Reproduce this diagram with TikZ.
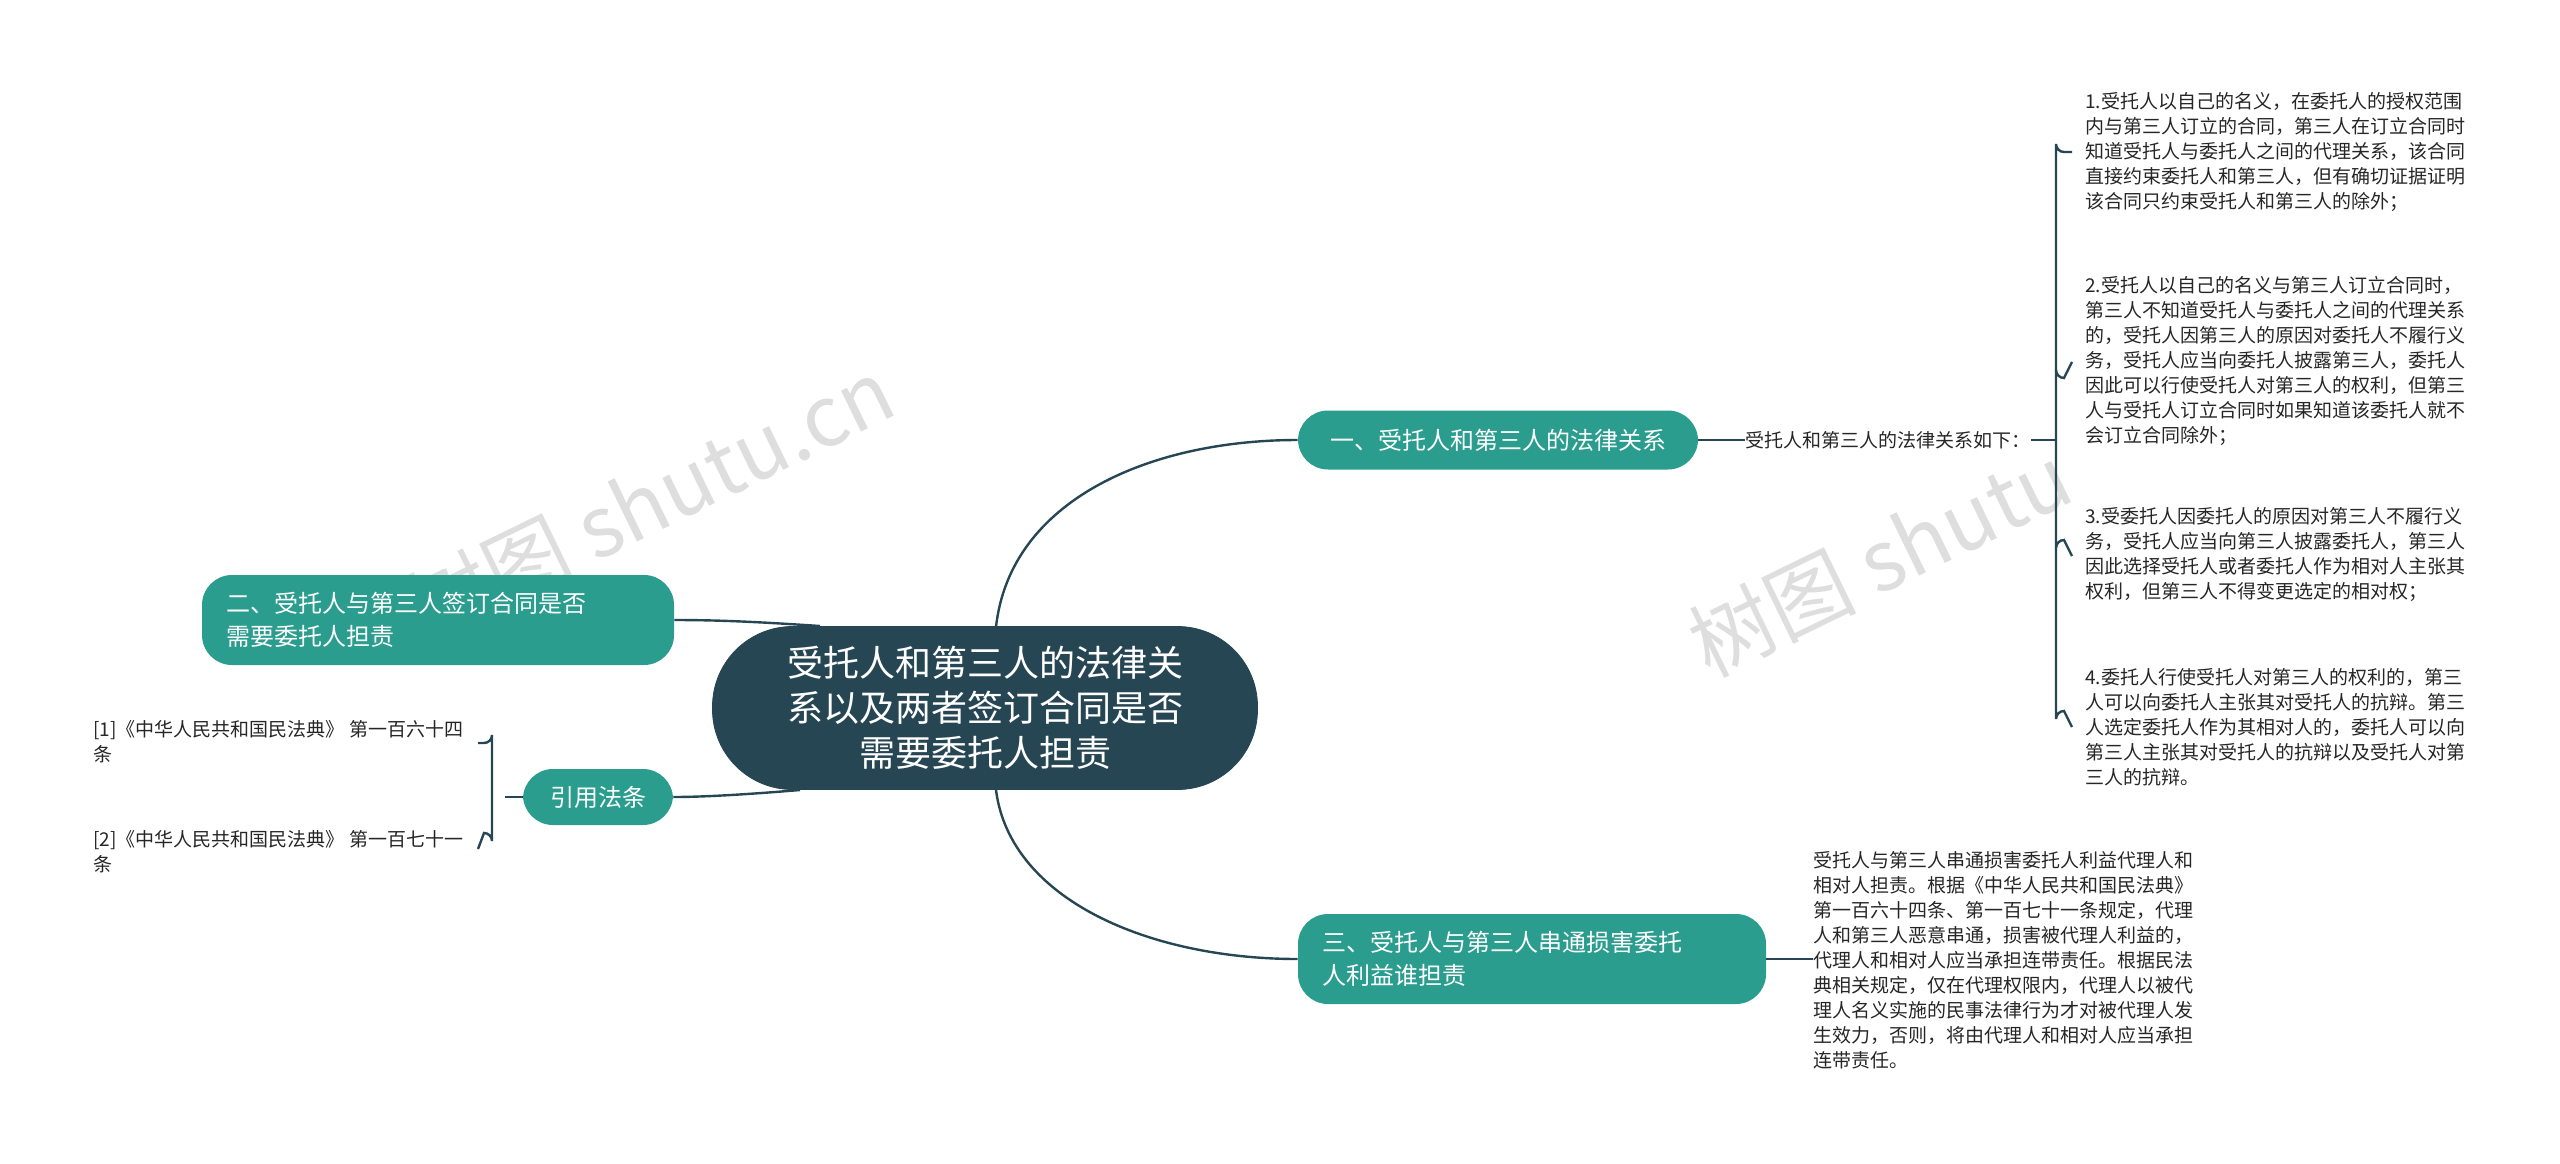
\documentclass[tikz,border=0pt]{standalone}
\usepackage{fontspec}
\setmainfont{Noto Sans CJK SC}
\begin{document}
\begin{tikzpicture}[x=0.5pt,y=-0.5pt,
  main/.style={fill=darkc,draw=darkc,rounded corners=40pt,text=white,align=center,font=\fontsize{18}{22.5}\selectfont,minimum width=272.5pt,minimum height=81.5pt},
  topic/.style={fill=tealc,rounded corners=15pt,text=white,align=left,font=\fontsize{12}{16.5}\selectfont,inner xsep=12pt},
  small/.style={align=left,font=\fontsize{9.5}{12.5}\selectfont,inner sep=0pt,text=black!85},
  conn/.style={draw=darkc,line width=1.2pt},
  wm/.style={text=black!13,font=\fontsize{42}{42}\selectfont}]
\definecolor{darkc}{HTML}{264653}
\definecolor{tealc}{HTML}{2A9D8F}
\useasboundingbox (0,0) rectangle (2560,1163);
% watermarks
\node[wm,rotate=26] at (650,500) {树图 shutu.cn};
\node[wm,rotate=26] at (1880,560) {树图 shutu};
% nodes
\node[main] (c) at (985,708) {受托人和第三人的法律关\\系以及两者签订合同是否\\需要委托人担责};
\node[topic,minimum width=200pt,minimum height=29.5pt] (t1) at (1498,440) {一、受托人和第三人的法律关系};
\node[topic,minimum width=236pt,minimum height=45pt,text width=212pt] (t2) at (438,620) {二、受托人与第三人签订合同是否\\需要委托人担责};
\node[topic,minimum width=75pt,minimum height=28pt] (t4) at (598,797) {引用法条};
\node[topic,minimum width=234pt,minimum height=45pt,text width=210pt] (t3) at (1532,959) {三、受托人与第三人串通损害委托\\人利益谁担责};
\node[small,anchor=west] (l1) at (1745,440) {受托人和第三人的法律关系如下：};
\coordinate (bj) at (2057,440);
\node[small,anchor=north west] (i1) at (2085,92) {1.受托人以自己的名义，在委托人的授权范围\\内与第三人订立的合同，第三人在订立合同时\\知道受托人与委托人之间的代理关系，该合同\\直接约束委托人和第三人，但有确切证据证明\\该合同只约束受托人和第三人的除外；};
\node[small,anchor=north west] (i2) at (2085,276) {2.受托人以自己的名义与第三人订立合同时，\\第三人不知道受托人与委托人之间的代理关系\\的，受托人因第三人的原因对委托人不履行义\\务，受托人应当向委托人披露第三人，委托人\\因此可以行使受托人对第三人的权利，但第三\\人与受托人订立合同时如果知道该委托人就不\\会订立合同除外；};
\node[small,anchor=north west] (i3) at (2085,507) {3.受委托人因委托人的原因对第三人不履行义\\务，受托人应当向第三人披露委托人，第三人\\因此选择受托人或者委托人作为相对人主张其\\权利，但第三人不得变更选定的相对权；};
\node[small,anchor=north west] (i4) at (2085,668) {4.委托人行使受托人对第三人的权利的，第三\\人可以向委托人主张其对受托人的抗辩。第三\\人选定委托人作为其相对人的，委托人可以向\\第三人主张其对受托人的抗辩以及受托人对第\\三人的抗辩。};
\node[small,anchor=north west] (b3) at (1813,851) {受托人与第三人串通损害委托人利益代理人和\\相对人担责。根据《中华人民共和国民法典》\\第一百六十四条、第一百七十一条规定，代理\\人和第三人恶意串通，损害被代理人利益的，\\代理人和相对人应当承担连带责任。根据民法\\典相关规定，仅在代理权限内，代理人以被代\\理人名义实施的民事法律行为才对被代理人发\\生效力，否则，将由代理人和相对人应当承担\\连带责任。};
\node[small,anchor=north west] (r1) at (93,720) {[1]《中华人民共和国民法典》 第一百六十四\\条};
\node[small,anchor=north west] (r2) at (93,830) {[2]《中华人民共和国民法典》 第一百七十一\\条};
% connectors
\draw[conn] (996,627) .. controls (1010,500) and (1150,440) .. (t1.west);
\draw[conn] (996,790) .. controls (1010,900) and (1150,959) .. (t3.west);
\draw[conn] (820,626) .. controls (760,622) and (720,620) .. (t2.east);
\draw[conn] (800,790) .. controls (740,795) and (700,797) .. (t4.east);
\draw[conn] (t1.east) -- (l1.west);
\draw[conn] (l1.east) -- (bj);
\draw[conn] (t3.east) -- (b3.west |- t3.east);
% right bracket
\draw[conn] (2072,152) -- (2064,152) arc[start angle=90,end angle=180,radius=8] -- (2056,719) arc[start angle=180,end angle=270,radius=8] -- (2072,727);
\draw[conn] (2056,370) arc[start angle=180,end angle=90,radius=8] -- (2072,362);
\draw[conn] (2056,548) arc[start angle=180,end angle=270,radius=8] -- (2072,556);
% left bracket
\draw[conn] (t4.west) -- (505,797);
\draw[conn] (478,743) -- (484,743) arc[start angle=90,end angle=0,radius=8] -- (492,841) arc[start angle=0,end angle=-90,radius=8] -- (478,849);
\end{tikzpicture}
\end{document}
